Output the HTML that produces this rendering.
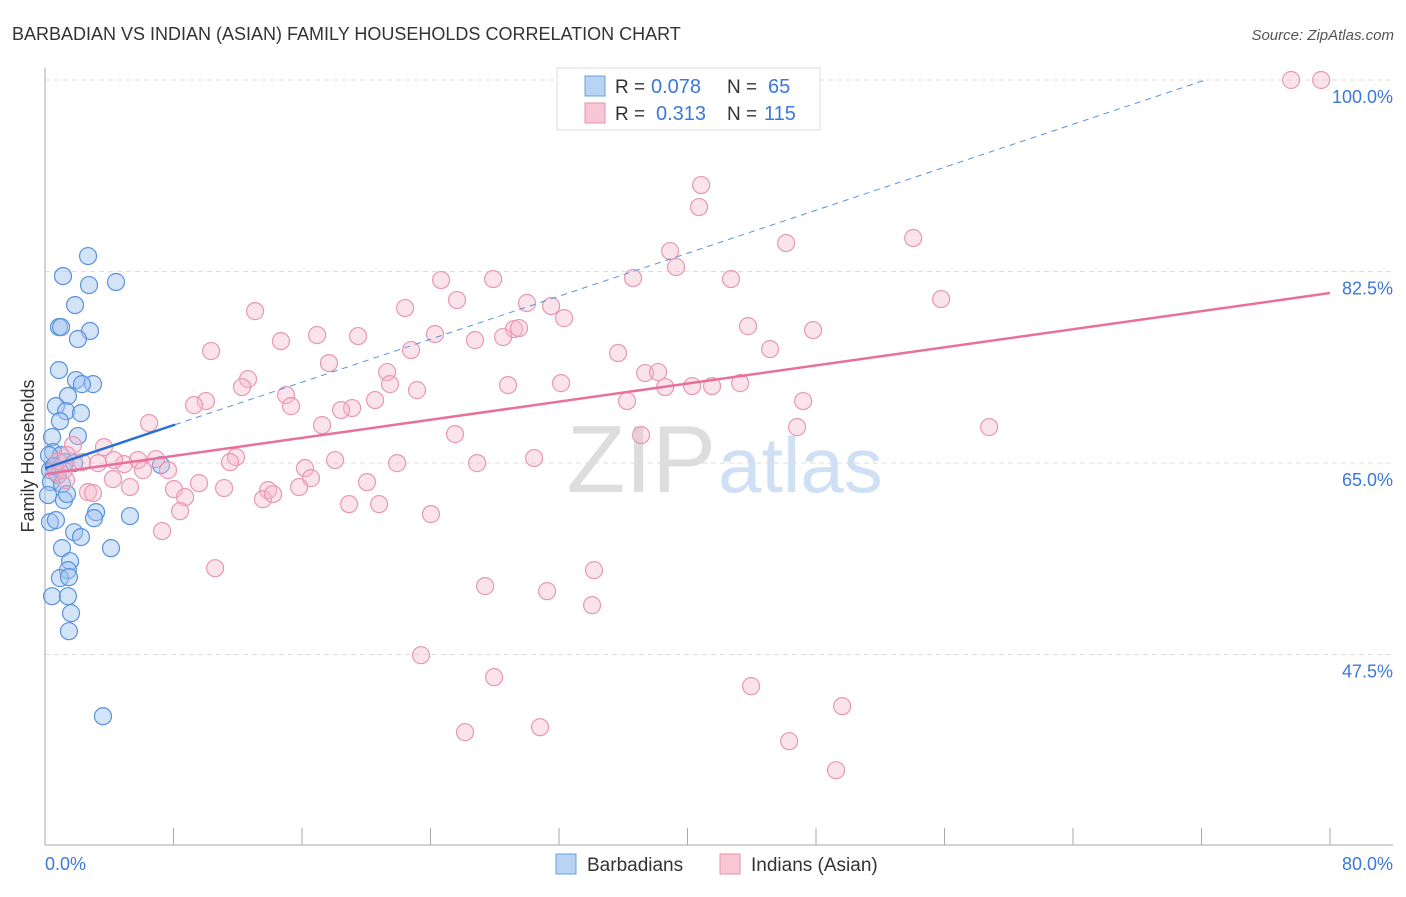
<!DOCTYPE html>
<html><head><meta charset="utf-8"><style>
body{margin:0;background:#fff;font-family:"Liberation Sans",sans-serif}
svg text{font-family:"Liberation Sans",sans-serif}
</style></head><body>
<svg id="chart" width="1406" height="892" xmlns="http://www.w3.org/2000/svg">
<text x="12" y="40" font-size="18" fill="#333">BARBADIAN VS INDIAN (ASIAN) FAMILY HOUSEHOLDS CORRELATION CHART</text>
<text x="1394" y="40" font-size="15" fill="#555" text-anchor="end" font-style="italic">Source: ZipAtlas.com</text>
<text x="716" y="492" font-size="96" fill="#ddd" text-anchor="end" font-family="Liberation Serif">ZIP</text>
<text x="718" y="492" font-size="78" fill="#cfe0f4">atlas</text>
<g id="grid"></g><g id="axes"></g><g id="pts"></g><g id="lines"></g>
<text transform="translate(34,456) rotate(-90)" font-size="18" fill="#333" text-anchor="middle">Family Households</text>
<text x="45" y="870" font-size="18" fill="#3c78d8">0.0%</text>
<text x="1393" y="870" font-size="18" fill="#3c78d8" text-anchor="end">80.0%</text>
<g>
<rect x="557" y="68" width="263" height="62" fill="#fff" stroke="#ddd"/>
<rect x="585" y="76" width="20" height="20" fill="#b8d3f4" stroke="#6a9fe0"/>
<rect x="585" y="103" width="20" height="20" fill="#f8c6d4" stroke="#e890aa"/>
<text x="615" y="93" font-size="19" fill="#333">R =</text>
<text x="651" y="93" font-size="20" fill="#3c78d8">0.078</text>
<text x="727" y="93" font-size="19" fill="#333">N =</text>
<text x="768" y="93" font-size="20" fill="#3c78d8">65</text>
<text x="615" y="120" font-size="19" fill="#333">R =</text>
<text x="656" y="120" font-size="20" fill="#3c78d8">0.313</text>
<text x="727" y="120" font-size="19" fill="#333">N =</text>
<text x="764" y="120" font-size="20" fill="#3c78d8">115</text>
</g>
<g>
<rect x="556" y="854" width="20" height="20" fill="#b8d3f4" stroke="#6a9fe0"/>
<text x="587" y="871" font-size="19" fill="#333">Barbadians</text>
<rect x="720" y="854" width="20" height="20" fill="#f8c6d4" stroke="#e890aa"/>
<text x="751" y="871" font-size="19" fill="#333">Indians (Asian)</text>
</g>
</svg>
<script>
const yTicks=[47.5,65,82.5,100];
const yTickLabels=["47.5%","65.0%","82.5%","100.0%"];
const xTicks=[0,8,16,24,32,40,48,56,64,72,80];
const blueX=[2.68,1.12,2.74,4.42,1.87,0.87,1.0,2.80,2.05,0.87,1.93,2.99,2.30,1.43,0.68,1.31,2.24,0.93,0.44,2.05,0.50,1.0,1.25,1.81,0.31,0.62,0.81,0.37,1.06,0.19,1.18,1.37,3.18,3.05,5.29,1.81,2.24,1.06,4.11,1.56,1.43,0.93,1.49,0.44,1.43,1.62,1.49,3.61,7.22,0.31,0.68,0.25,0.56];
const blueY=[83.91,82.08,81.26,81.54,79.43,77.42,77.42,77.06,76.33,73.49,72.58,72.21,72.21,71.12,70.20,69.74,69.56,68.83,67.37,67.46,66.0,65.72,65.08,64.99,64.35,64.63,63.9,63.26,63.07,62.07,61.61,62.16,60.51,59.96,60.15,58.68,58.23,57.22,57.22,56.03,55.21,54.48,54.57,52.83,52.83,51.28,49.63,41.86,64.81,59.6,59.78,65.72,64.72];
const pinkX=[77.58,79.45,40.85,40.72,54.05,46.14,38.92,39.29,24.66,27.90,36.61,42.71,25.65,55.79,30.01,31.51,13.08,22.42,32.32,43.77,16.94,19.49,29.20,29.51,24.28,47.82,14.69,26.77,28.52,10.34,22.79,45.14,35.68,17.68,21.30,37.36,38.17,12.64,12.27,21.48,23.16,28.83,32.13,38.61,40.29,41.53,43.28,15.01,10.02,9.28,15.32,20.55,36.24,47.20,19.12,18.43,6.48,17.25,25.53,46.82,37.11,58.78,3.67,1.74,5.79,6.91,4.92,3.30,4.30,2.30,11.89,11.52,18.06,30.45,21.92,16.19,26.90,7.66,6.10,4.23,16.56,20.05,5.29,8.03,9.59,11.15,13.89,13.57,14.20,15.82,8.72,2.68,2.99,1.31,0.68,1.18,18.93,20.80,8.41,24.03,7.29,10.59,34.18,27.40,31.26,34.06,23.41,27.96,43.96,49.63,26.15,30.82,46.33,49.25,1.37,0.81];
const pinkY=[100,100,90.40,88.39,85.56,85.10,84.37,82.91,81.72,81.81,81.90,81.81,79.89,79.98,79.62,79.34,78.88,79.16,78.24,77.51,76.69,76.60,77.24,77.33,76.78,77.15,76.14,76.23,76.51,75.23,75.32,75.41,75.05,74.13,73.31,73.22,73.31,72.67,71.94,72.21,71.66,72.12,72.30,71.94,72.03,72.03,72.30,71.21,70.66,70.29,70.20,70.75,70.66,70.66,70.02,69.84,68.65,68.46,67.64,68.28,67.55,68.28,66.45,66.64,65.27,65.36,64.90,64.99,65.27,65.08,65.54,65.08,65.27,65.45,64.99,64.53,64.99,64.35,64.35,63.53,63.62,63.25,62.80,62.61,63.16,62.71,62.52,61.70,62.16,62.80,61.88,62.34,62.25,63.44,64.17,64.35,61.24,61.24,60.60,60.33,58.78,55.39,55.21,53.75,53.29,52.01,47.44,45.43,44.61,42.78,40.40,40.86,39.58,36.93,65.72,65.17];
const blueTrend=[64.53,0.491];
const pinkTrend=[63.99,0.2068];
const X=v=>45+v*16.0625, Y=v=>80+(100-v)*10.943;
const NS="http://www.w3.org/2000/svg";
function mk(t,a,p){const e=document.createElementNS(NS,t);for(const k in a)e.setAttribute(k,a[k]);document.getElementById(p).appendChild(e);return e;}
yTicks.forEach((t,i)=>{
 const g=mk('line',{x1:45,x2:1393,y1:Y(t),y2:Y(t),stroke:'#ddd','stroke-dasharray':'5,4'},'grid');
 
 
 const l=mk('text',{x:1393,y:Y(t)+23,'font-size':18,fill:'#3c78d8','text-anchor':'end'},'grid');
 l.textContent=yTickLabels[i];
 
 
});
const ya=mk('line',{x1:45,x2:45,y1:68,y2:845,stroke:'#aaa'},'axes');


const xa=mk('line',{x1:45,x2:1393,y1:845,y2:845,stroke:'#aaa'},'axes');


xTicks.forEach(t=>{const k=mk('line',{x1:X(t),x2:X(t),y1:828,y2:845,stroke:'#aaa'},'axes');
 
 });
blueX.forEach((v,i)=>{const c=mk('circle',{cx:X(v),cy:Y(blueY[i]),r:8.5,fill:'rgba(160,196,240,0.45)',stroke:'#5a92dc','stroke-width':1.2},'pts');
 
 });
pinkX.forEach((v,i)=>{const c=mk('circle',{cx:X(v),cy:Y(pinkY[i]),r:8.5,fill:'rgba(246,184,204,0.4)',stroke:'#e898b0','stroke-width':1.2},'pts');
 
 });
const bEnd=(100-blueTrend[0])/blueTrend[1];
const bd=mk('line',{x1:X(8.1),y1:Y(blueTrend[0]+blueTrend[1]*8.1),x2:X(bEnd),y2:Y(100),stroke:'#5a92dc','stroke-dasharray':'6,5','stroke-width':1},'lines');


const bs=mk('line',{x1:X(0),y1:Y(blueTrend[0]),x2:X(8.1),y2:Y(blueTrend[0]+blueTrend[1]*8.1),stroke:'#2a6fd6','stroke-width':2.5},'lines');


const ps=mk('line',{x1:X(0),y1:Y(pinkTrend[0]),x2:X(80),y2:Y(pinkTrend[0]+pinkTrend[1]*80),stroke:'#e8709a','stroke-width':2.5},'lines');


</script>
</body></html>
